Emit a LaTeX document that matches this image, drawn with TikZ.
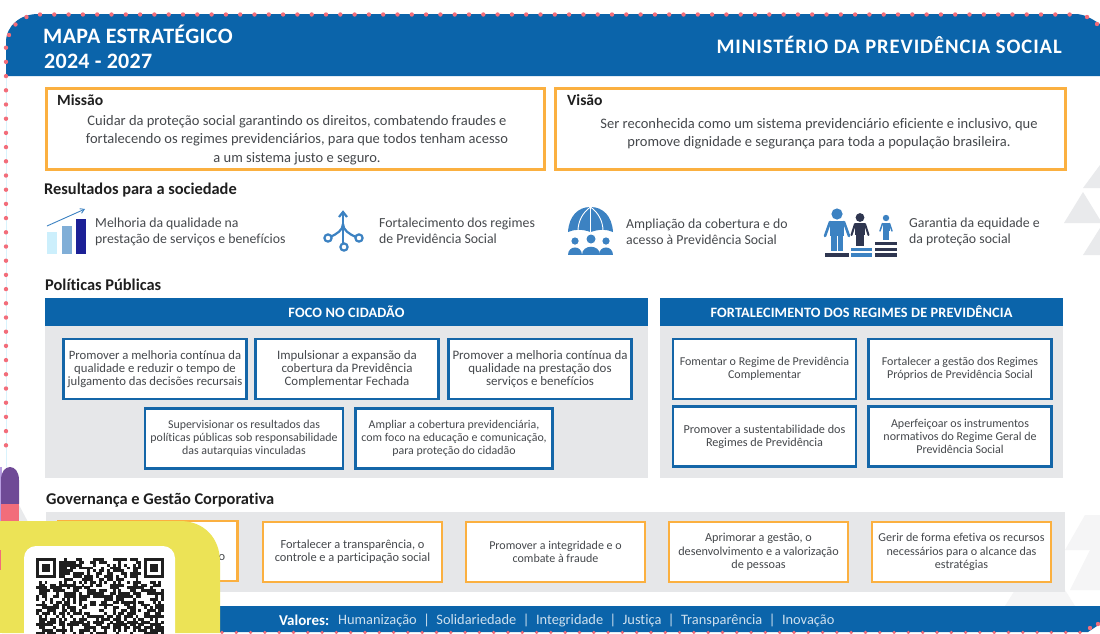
\documentclass[tikz,border=0pt]{standalone}
\usepackage{fontspec}
\usetikzlibrary{arrows.meta}
\setmainfont[Ligatures=NoCommon]{Carlito}
\definecolor{hblue}{HTML}{0B64AA}
\definecolor{boxblue}{HTML}{1466A8}
\definecolor{orangeb}{HTML}{FBB040}
\definecolor{panel}{HTML}{E6E7E9}
\definecolor{txt}{HTML}{45484C}
\definecolor{dotc}{HTML}{F26D7A}
\definecolor{icon}{HTML}{3C82C2}
\definecolor{navy}{HTML}{2F3650}
\definecolor{yell}{HTML}{ECE356}
\definecolor{tri}{HTML}{E9EAEC}
\definecolor{trib}{HTML}{F5F5F6}
\definecolor{purp}{HTML}{6F4A96}
\definecolor{lilac}{HTML}{B79CE0}
\tikzset{
  fsz/.style={font=\fontsize{#1}{13.3}\selectfont},
  bluebox/.style={draw=boxblue,line width=2.4pt,fill=white,inner sep=0pt,align=center,text=txt},
  orbox/.style={draw=orangeb,line width=2.4pt,fill=white,inner sep=0pt,align=center,text=txt},
  big/.style={draw=orangeb,line width=3pt,fill=white},
  heading/.style={anchor=west,inner sep=0pt,text=black!88,font=\fontsize{16.4}{18}\selectfont\bfseries},
  restxt/.style={anchor=west,inner sep=0pt,align=left,text=txt,font=\fontsize{13.8}{16.2}\selectfont},
  para/.style={inner sep=0pt,align=center,text=txt,font=\fontsize{14.5}{18.4}\selectfont},
  phead/.style={fill=hblue,text=white,inner sep=0pt,font=\fontsize{14.3}{15}\addfontfeature{LetterSpace=1}\selectfont\bfseries},
  dotm/.style={fill=dotc,draw=none}
}
\begin{document}
\begin{tikzpicture}[x=1pt,y=-1pt]
\useasboundingbox (0,0) rectangle (1100,633);
\fill[white] (0,0) rectangle (1100,633);
% background triangles
\fill[tri] (1064,223)--(1083,192)--(1102,223)--cycle;
\fill[tri] (1083,188)--(1100,165)--(1100,188)--cycle;
\fill[tri] (1083,255)--(1100,228)--(1100,255)--cycle;
\fill[trib] (1005,606)--(1040,550)--(1075,606)--cycle;
\fill[trib] (1070,590)--(1100,530)--(1100,590)--cycle;
\fill[trib] (1065,550)--(1085,515)--(1100,515)--(1100,550)--cycle;
% frame lines
\draw[cyan!15,line width=0.8pt] (6,76)--(6,467);
% header
\fill[hblue] (6,76)--(6,42) .. controls (6,26) and (20,14) .. (38,14) -- (1075,14) .. controls (1085,14) and (1092,19) .. (1100,24) -- (1100,76) -- cycle;
\node[anchor=west,inner sep=0pt,text=white,font=\fontsize{22}{24}\addfontfeature{LetterSpace=1.7}\selectfont\bfseries] (title1) at (43,34.5) {MAPA ESTRATÉGICO};
\node[anchor=west,inner sep=0pt,text=white,font=\fontsize{22}{24}\addfontfeature{LetterSpace=1.2}\selectfont\bfseries] (title2) at (44,61.5) {2024 - 2027};
\node[anchor=east,inner sep=0pt,text=white,font=\fontsize{20.6}{22}\addfontfeature{LetterSpace=4.5}\selectfont\bfseries] (ministry) at (1062,45) {MINISTÉRIO DA PREVIDÊNCIA SOCIAL};
% mission
\node[big,minimum width=498pt,minimum height=81pt,inner sep=0pt] (missao) at (295,128.5) {};
\node[big,minimum width=510pt,minimum height=81pt,inner sep=0pt] (visao) at (810,128.5) {};
\node[heading,font=\fontsize{15.6}{18}\selectfont\bfseries] (mt) at (57,100.5) {Missão};
\node[heading,font=\fontsize{15.6}{18}\selectfont\bfseries] (vt) at (567,100.5) {Visão};
\node[para] (mtxt) at (297,140) {Cuidar da proteção social garantindo os direitos, combatendo fraudes e\\fortalecendo os regimes previdenciários, para que todos tenham acesso\\a um sistema justo e seguro.};
\node[para] (vtxt) at (819,134) {Ser reconhecida como um sistema previdenciário eficiente e inclusivo, que\\promove dignidade e segurança para toda a população brasileira.};
% results
\node[heading] (h1) at (44,190.5) {Resultados para a sociedade};
\fill[cyan!20] (47,232) rectangle (57,254);
\fill[icon!65] (62,226) rectangle (72,254);
\fill[blue!40!navy] (76,219) rectangle (86,254);
\draw[icon,line width=0.9pt,-{Straight Barb[length=4pt,width=5pt]}] (47,226)--(85,209);
\node[restxt] (r1) at (95,232) {Melhoria da qualidade na\\prestação de serviços e benefícios};
% network icon
\begin{scope}[icon,line width=2.2pt]
\draw (343,213)--(343,247);
\draw (339,217)--(343,212)--(347,217);
\draw (330,237) .. controls (337,234) and (343,230) .. (343,224);
\draw (356,237) .. controls (349,234) and (343,230) .. (343,224);
\draw[fill=white] (328,238) circle[radius=3.6pt];
\draw[fill=white] (359,238) circle[radius=3.6pt];
\draw[fill=white] (344,247) circle[radius=3.6pt];
\end{scope}
\node[restxt] (r2) at (379,231) {Fortalecimento dos regimes\\de Previdência Social};
% umbrella icon
\fill[icon] (568,232) .. controls (569,216) and (578,207) .. (590.5,207) .. controls (603,207) and (612,216) .. (613,232) .. controls (606,229) and (600,229) .. (590.5,232) .. controls (582,229) and (575,229) .. (568,232) -- cycle;
\draw[white,line width=0.9pt] (590.5,207)--(590.5,232) (590.5,207) .. controls (582,213) and (578,222) .. (578,231) (590.5,207) .. controls (599,213) and (603,222) .. (603,231);
\foreach \px/\py/\pr in {575/241/3.6,591/239/4.5,606/241/3.6}{
  \fill[icon] (\px,\py) circle[radius=\pr pt];
  \fill[icon] (\px-1.9*\pr,254.5) .. controls (\px-1.9*\pr,\py+1.2*\pr) and (\px+1.9*\pr,\py+1.2*\pr) .. (\px+1.9*\pr,254.5) -- cycle;
}
\node[restxt] (r3) at (626,231.5) {Ampliação da cobertura e do\\acesso à Previdência Social};
% people icon
\fill[icon] (837,214) circle[radius=5.6pt];
\fill[icon] (830,221) rectangle (844,236);
\fill[icon] (831,235) rectangle (836.5,251);
\fill[icon] (837.5,235) rectangle (843,251);
\draw[icon,line width=2.6pt,line cap=round] (830,222)--(825,236) (844,222)--(849,236);
\fill[navy] (825,253) rectangle (849,256.5);
\fill[navy] (860,217.5) circle[radius=4.4pt];
\fill[navy] (855,223) rectangle (865,235);
\fill[navy] (856,234) rectangle (859.7,246);
\fill[navy] (860.3,234) rectangle (864,246);
\draw[navy,line width=2pt,line cap=round] (855,224)--(851.5,235) (865,224)--(868.5,235);
\fill[icon] (851,247.5) rectangle (872,251);
\fill[icon] (851,253) rectangle (872,256.5);
\fill[icon] (886,218) circle[radius=3.2pt];
\fill[icon] (882.5,222.5) rectangle (889.5,231);
\fill[icon] (883,230) rectangle (885.6,240);
\fill[icon] (886.4,230) rectangle (889,240);
\draw[icon,line width=1.5pt,line cap=round] (882.5,223.5)--(880,231) (889.5,223.5)--(892,231);
\fill[navy] (875,241.5) rectangle (897,245);
\fill[navy] (875,247.5) rectangle (897,251);
\fill[navy] (875,253) rectangle (897,256.5);
\node[restxt] (r4) at (909,231.5) {Garantia da equidade e\\da proteção social};
% policies
\node[heading] (h2) at (45,284.5) {Políticas Públicas};
\fill[panel] (45,326) rectangle (648,478);
\fill[panel] (660,326) rectangle (1063,478);
\node[phead,minimum width=603pt,minimum height=28pt] (ph1) at (346.5,312) {FOCO NO CIDADÃO};
\node[phead,minimum width=403pt,minimum height=28pt] (ph2) at (861.5,312) {FORTALECIMENTO DOS REGIMES DE PREVIDÊNCIA};
\begin{scope}[every node/.append style={minimum height=60pt}]
\node[bluebox,fsz=12.7,minimum width=183pt] (b1) at (155,369) {Promover a melhoria contínua da\\qualidade e reduzir o tempo de\\julgamento das decisões recursais};
\node[bluebox,fsz=12.9,minimum width=183pt] (b2) at (347,369) {Impulsionar a expansão da\\cobertura da Previdência\\Complementar Fechada};
\node[bluebox,fsz=12.9,minimum width=183pt] (b3) at (540,369) {Promover a melhoria contínua da\\qualidade na prestação dos\\serviços e benefícios};
\node[bluebox,fsz=11.9,minimum width=198pt] (b4) at (244,438.5) {Supervisionar os resultados das\\políticas públicas sob responsabilidade\\das autarquias vinculadas};
\node[bluebox,fsz=11.9,minimum width=197pt] (b5) at (454,438.5) {Ampliar a cobertura previdenciária,\\com foco na educação e comunicação,\\para proteção do cidadão};
\node[bluebox,fsz=12,minimum width=183pt] (b6) at (764.5,369) {Fomentar o Regime de Previdência\\Complementar};
\node[bluebox,fsz=12,minimum width=183pt] (b7) at (960,369) {Fortalecer a gestão dos Regimes\\Próprios de Previdência Social};
\node[bluebox,fsz=12.2,minimum width=183pt] (b8) at (764.5,436.5) {Promover a sustentabilidade dos\\Regimes de Previdência};
\node[bluebox,fsz=12,minimum width=183pt] (b9) at (960,436.5) {Aperfeiçoar os instrumentos\\normativos do Regime Geral de\\Previdência Social};
\end{scope}
% governance
\node[heading] (h3) at (46,500.5) {Governança e Gestão Corporativa};
\fill[panel] (46,512) rectangle (1065,592);
\begin{scope}[every node/.append style={minimum height=60pt,minimum width=179pt}]
\node[orbox] (g1) at (148,551) {};
\node[orbox,fsz=12.4] (g2) at (352.5,552) {Fortalecer a transparência, o\\controle e a participação social};
\node[orbox,fsz=12] (g3) at (555.5,552) {Promover a integridade e o\\combate à fraude};
\node[orbox,fsz=12.2] (g4) at (758.5,552) {Aprimorar a gestão, o\\desenvolvimento e a valorização\\de pessoas};
\node[orbox,fsz=12.1] (g5) at (961.5,552) {Gerir de forma efetiva os recursos\\necessários para o alcance das\\estratégias};
\end{scope}
\node[inner sep=0pt,text=txt,font=\fontsize{12.4}{14}\selectfont] (gi) at (222,558) {o};
% bottom band
\fill[hblue] (218,606)--(1100,606)--(1100,624)--(1088,632)--(218,632)--cycle;
\node[anchor=west,inner sep=0pt,text=white,font=\fontsize{15}{17}\selectfont\bfseries] (val) at (279,620.5) {Valores:};
\node[anchor=west,inner sep=0pt,text=white!80!hblue,font=\fontsize{14.4}{17}\selectfont] (vals) at (338,620.5) {Humanização\ \ |\ \ Solidariedade\ \ |\ \ Integridade\ \ |\ \ Justiça\ \ |\ \ Transparência\ \ |\ \ Inovação};
% dots
\foreach \i in {0,...,72}{\fill[dotm] ({40+14.3*\i},14.5) circle[radius=2.2pt];}
\foreach \p in {(26.5,17),(15.5,24.5),(9,35),(1087,17),(1097,24),(1090,628),(1098,624)}{\fill[dotm] \p circle[radius=2.2pt];}
\foreach \i in {0,...,28}{\fill[dotm] (6,{47.7+14.2*\i}) circle[radius=2.2pt];}
\foreach \i in {0,...,60}{\fill[dotm] ({222+14.3*\i},632.5) circle[radius=1.8pt];}
% side tabs
\fill[lilac] (0,467) rectangle (2,524);
\fill[tri] (19,505)--(28,522)--(19,522)--cycle;
\fill[purp] (1,523)--(1,480) .. controls (1,472) and (5,467) .. (10,467) .. controls (15,467) and (19,472) .. (19,480) -- (19,504) -- (1,504) -- cycle;
\fill[dotc] (1,504) rectangle (19,523);
% yellow card
\fill[yell] (0,521) rectangle (2,633);
\fill[dotc] (0,550) rectangle (1.2,570);
\fill[yell] (2,521) -- (180,521) .. controls (204,521) and (220,538) .. (220,562) -- (220,633) -- (2,633) -- cycle;
\fill[white,rounded corners=12pt] (24,546) rectangle (175,650);
% QR
\pgfmathsetseed{2027}
\begin{scope}
\clip (24,546) rectangle (175,633);
\fill[black!88] (36,558) rectangle (55.9,577.9);
\fill[white] (38.8,560.8) rectangle (53.1,575.1);
\fill[black!88] (41.7,563.7) rectangle (50.2,572.2);
\fill[black!88] (144.1,558) rectangle (164,577.9);
\fill[white] (146.9,560.8) rectangle (161.2,575.1);
\fill[black!88] (149.8,563.7) rectangle (158.3,572.2);
\foreach \r in {0,...,26}{
  \foreach \c in {0,...,44}{
    \pgfmathparse{(\r<8 && (\c<8 || \c>36)) ? 0 : 1}
    \pgfmathtruncatemacro{\qok}{\pgfmathresult}
    \ifnum\qok=1
      \pgfmathrandominteger{\qv}{0}{99}
      \ifnum\qv<58
        \fill[black!88] ({36+2.844*\c},{558+2.844*\r}) rectangle ({36+2.844*(\c+1)+0.1},{558+2.844*(\r+1)+0.1});
      \fi
    \fi
  }
}
\end{scope}
\end{tikzpicture}
\end{document}
